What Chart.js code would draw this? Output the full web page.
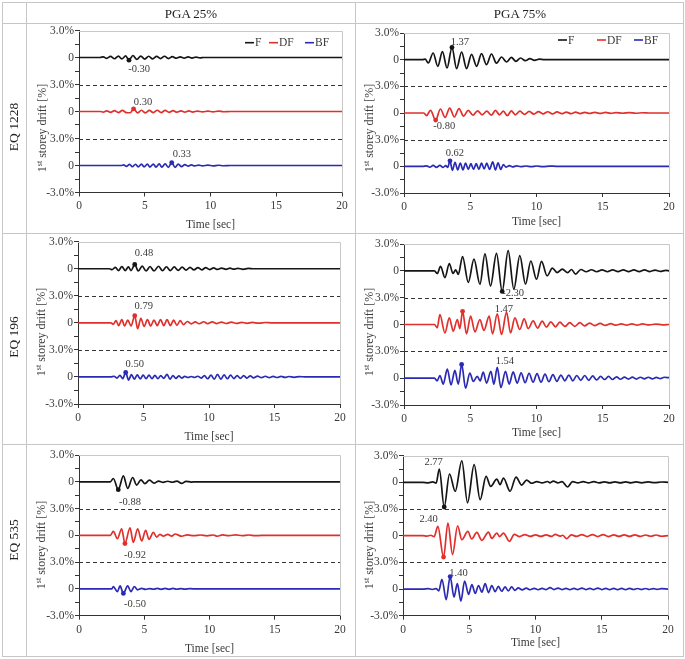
<!DOCTYPE html>
<html><head><meta charset="utf-8">
<script src="https://cdn.jsdelivr.net/npm/chart.js@4.4.1/dist/chart.umd.min.js"></script>
<style>
html,body{margin:0;padding:0;background:#fff;}
body{width:685px;height:659px;position:relative;overflow:hidden;font-family:"Liberation Serif","Times New Roman",serif;color:#333;font-weight:normal;}
.hl{position:absolute;height:1px;background:#c6c6c6;}
.vl{position:absolute;width:1px;background:#c6c6c6;}
.hdr{position:absolute;font-size:13px;font-weight:normal;color:#222;transform:translate(-50%,-50%);white-space:nowrap;filter:grayscale(1);}
.rowlab{position:absolute;font-size:13.5px;font-weight:normal;color:#222;transform:translate(-50%,-50%) rotate(-90deg);white-space:nowrap;filter:grayscale(1);}
canvas{position:absolute;}
</style></head><body>
<script>
// ---------------- DATA (time [s], drift [%]) ----------------
const COLUMN_HEADERS = ['PGA 25%', 'PGA 75%'];
const ROW_LABELS = ['EQ 1228', 'EQ 196', 'EQ 535'];
const SERIES_NAMES = ['F', 'DF', 'BF'];
const X_TICK_VALUES = [0, 5, 10, 15, 20];
const Y_TICK_VALUES = [-9, -7.5, -6, -4.5, -3, -1.5, 0, 1.5, 3, 4.5, 6, 7.5, 9];
const Y_TICK_LABELS = ['-3.0%', '', '0', '', '3.0%', '', '0', '', '3.0%', '', '0', '', '3.0%'];

// EQ 1228 - PGA 25%
const EQ1228_25_F = [[0,0],[1.6,0],[1.85,0.07],[2.1,-0.1],[2.4,0.12],[2.7,-0.14],[3.0,0.15],[3.25,-0.16],[3.55,0.17],[3.8,-0.30],[4.1,0.22],[4.4,-0.2],[4.7,0.16],[5.0,-0.18],[5.3,0.14],[5.6,-0.15],[5.9,0.13],[6.2,-0.12],[6.5,0.14],[6.8,-0.12],[7.1,0.1],[7.4,-0.08],[7.7,0.07],[8.0,-0.07],[8.3,0.06],[8.6,-0.06],[8.9,0.05],[9.2,-0.04],[9.5,0],[20,0]];
const EQ1228_25_DF = [[0,0],[1.6,0],[1.85,-0.06],[2.1,0.08],[2.4,-0.1],[2.7,0.1],[3.0,-0.12],[3.3,0.12],[3.6,-0.12],[3.9,-0.14],[4.15,0.30],[4.45,-0.15],[4.75,0.14],[5.05,-0.15],[5.35,0.12],[5.65,-0.12],[5.95,0.14],[6.25,-0.12],[6.55,0.12],[6.85,-0.1],[7.15,0.1],[7.45,-0.08],[7.75,0.07],[8.05,-0.07],[8.35,0.06],[8.65,-0.06],[9.0,0.05],[9.4,-0.05],[9.8,0.05],[10.2,-0.04],[10.6,0.04],[11.0,-0.03],[11.5,0],[20,0]];
const EQ1228_25_BF = [[0,0],[3.2,0],[3.4,0.06],[3.6,-0.1],[3.85,0.12],[4.05,-0.14],[4.3,0.14],[4.5,-0.15],[4.75,0.15],[4.95,-0.16],[5.2,0.15],[5.4,-0.17],[5.65,0.16],[5.85,-0.17],[6.1,0.17],[6.3,-0.18],[6.55,0.18],[6.8,-0.2],[7.05,0.33],[7.3,-0.2],[7.55,0.16],[7.8,-0.12],[8.05,0.1],[8.3,-0.08],[8.55,0.06],[8.8,-0.05],[9.1,0.04],[9.4,-0.04],[9.8,0.04],[10.2,-0.04],[10.6,0.03],[11.0,-0.03],[11.5,0],[20,0]];

// EQ 1228 - PGA 75%
const EQ1228_75_F = [[0,0],[1.4,0],[1.6,0.05],[1.83,-0.37],[2.2,0.75],[2.55,-0.75],[2.9,0.9],[3.25,-0.94],[3.62,1.37],[3.97,-1.0],[4.35,0.86],[4.72,-1.0],[5.1,0.6],[5.48,-0.75],[5.85,0.67],[6.23,-0.56],[6.6,0.64],[6.98,-0.4],[7.36,0.3],[7.74,-0.26],[8.1,0.26],[8.45,-0.19],[8.8,0.19],[9.15,-0.11],[9.5,0.11],[9.85,-0.07],[10.2,0.05],[10.6,0],[20,0]];
const EQ1228_75_DF = [[0,0],[1.5,0],[1.7,-0.3],[2.0,0.3],[2.39,-0.80],[2.75,0.45],[3.1,-0.5],[3.45,0.55],[3.8,-0.45],[4.15,0.5],[4.5,-0.35],[4.85,0.3],[5.2,-0.25],[5.55,0.25],[5.9,-0.2],[6.25,0.2],[6.6,-0.25],[6.9,0.3],[7.2,-0.2],[7.5,0.2],[7.8,-0.3],[8.1,0.25],[8.4,-0.2],[8.75,0.2],[9.1,-0.15],[9.45,0.18],[9.8,-0.12],[10.15,0.15],[10.5,-0.1],[10.85,0.14],[11.2,-0.1],[11.55,0.12],[11.9,-0.08],[12.25,0.1],[12.6,-0.07],[12.95,0.09],[13.3,-0.06],[13.65,0.08],[14.0,-0.05],[14.4,0.07],[14.8,-0.05],[15.2,0.06],[15.6,-0.04],[16.0,0.05],[16.5,-0.03],[17.0,0.04],[17.5,-0.03],[18.0,0.03],[18.5,0],[20,0]];
const EQ1228_75_BF = [[0,0],[1.4,0],[1.7,0.05],[1.95,-0.1],[2.2,0.1],[2.45,-0.12],[2.7,0.1],[2.95,-0.12],[3.15,0.08],[3.3,-0.12],[3.47,0.62],[3.65,-0.45],[3.85,0.45],[4.05,-0.4],[4.25,0.35],[4.45,-0.4],[4.65,0.35],[4.85,-0.35],[5.05,0.3],[5.25,-0.35],[5.45,0.3],[5.65,-0.35],[5.85,0.35],[6.05,-0.3],[6.25,0.35],[6.45,-0.35],[6.7,0.5],[6.9,-0.4],[7.1,0.4],[7.3,-0.35],[7.5,0.2],[7.7,-0.1],[7.95,0.08],[8.2,-0.06],[8.5,0.05],[8.8,-0.04],[9.2,0.04],[9.6,-0.04],[10.0,0.04],[10.5,-0.03],[11.0,0.03],[11.5,0],[20,0]];

// EQ 196 - PGA 25%
const EQ196_25_F = [[0,0],[2.4,0],[2.6,-0.1],[2.85,0.15],[3.1,-0.2],[3.35,0.25],[3.6,-0.2],[3.85,0.2],[4.05,-0.2],[4.33,0.48],[4.6,-0.25],[4.9,0.3],[5.2,-0.25],[5.5,0.25],[5.8,-0.25],[6.15,0.28],[6.45,-0.22],[6.75,0.22],[7.05,-0.2],[7.35,0.2],[7.65,-0.18],[7.95,0.18],[8.25,-0.15],[8.55,0.15],[8.85,-0.13],[9.15,0.13],[9.45,-0.12],[9.75,0.12],[10.05,-0.1],[10.35,0.1],[10.65,-0.08],[10.95,0.08],[11.3,-0.06],[11.6,0.06],[11.9,-0.05],[12.2,0.05],[12.6,-0.06],[13.0,0.04],[13.4,0],[20,0]];
const EQ196_25_DF = [[0,0],[2.5,0],[2.7,-0.15],[2.9,0.25],[3.1,-0.3],[3.35,0.35],[3.55,-0.35],[3.8,0.3],[4.05,-0.35],[4.33,0.79],[4.55,-0.65],[4.8,0.5],[5.05,-0.4],[5.3,0.35],[5.55,-0.35],[5.8,0.3],[6.05,-0.3],[6.3,0.35],[6.55,-0.3],[6.8,0.35],[7.05,-0.3],[7.3,0.3],[7.55,-0.28],[7.8,0.25],[8.05,-0.2],[8.35,0.15],[8.65,-0.12],[8.95,0.1],[9.25,-0.1],[9.6,0.12],[9.9,-0.1],[10.25,0.1],[10.6,-0.08],[10.95,0.08],[11.3,-0.07],[11.7,0.07],[12.1,-0.06],[12.5,0.06],[12.9,-0.05],[13.3,0.05],[13.8,-0.04],[14.3,0.04],[14.8,0],[20,0]];
const EQ196_25_BF = [[0,0],[2.5,0],[2.75,0.08],[2.97,-0.12],[3.2,0.18],[3.42,-0.2],[3.64,0.50],[3.86,-0.35],[4.08,0.25],[4.3,-0.25],[4.52,0.22],[4.75,-0.22],[4.97,0.2],[5.2,-0.2],[5.42,0.2],[5.65,-0.2],[5.87,0.18],[6.1,-0.2],[6.32,0.15],[6.55,-0.15],[6.8,0.3],[7.02,-0.25],[7.25,0.15],[7.47,-0.15],[7.7,0.12],[7.92,-0.12],[8.15,0.06],[8.4,-0.06],[8.65,0.05],[8.9,-0.06],[9.15,0.08],[9.4,-0.12],[9.65,0.15],[9.9,-0.2],[10.15,0.2],[10.4,-0.25],[10.65,0.3],[10.9,-0.25],[11.15,0.22],[11.4,-0.2],[11.65,0.2],[11.9,-0.18],[12.15,0.15],[12.4,-0.15],[12.65,0.15],[12.9,-0.12],[13.15,0.12],[13.4,-0.1],[13.7,0.1],[14.0,-0.08],[14.3,0.08],[14.6,-0.07],[14.9,0.07],[15.2,-0.06],[15.5,0.06],[15.8,-0.05],[16.1,0.05],[16.5,-0.04],[16.9,0.04],[17.4,0],[20,0]];

// EQ 196 - PGA 75%
const EQ196_75_F = [[0,0],[2.3,0],[2.51,-0.3],[2.76,0.5],[3.09,-0.75],[3.42,0.8],[3.7,-0.3],[3.9,0.1],[4.1,-0.4],[4.42,1.6],[4.85,-1.3],[5.28,1.3],[5.73,-1.5],[6.11,1.9],[6.53,-1.7],[6.98,1.95],[7.41,-2.30],[7.86,2.25],[8.29,-2.06],[8.74,1.7],[9.17,-1.5],[9.57,1.1],[10.0,-0.94],[10.38,1.05],[10.8,-0.56],[11.2,0.3],[11.55,-0.19],[11.95,0.2],[12.35,-0.2],[12.65,0.15],[12.95,-0.37],[13.35,0.15],[13.75,-0.1],[14.15,0.12],[14.55,-0.1],[14.95,0.1],[15.35,-0.1],[15.75,0.1],[16.15,-0.08],[16.55,0.1],[16.95,-0.08],[17.35,0.1],[17.75,-0.08],[18.15,0.1],[18.55,-0.08],[18.95,0.08],[19.35,-0.06],[19.75,0.06],[20,0]];
const EQ196_75_DF = [[0,0],[2.3,0],[2.51,-0.37],[2.71,1.1],[3.09,-0.94],[3.42,0.75],[3.72,-0.75],[4.02,0.56],[4.22,-0.45],[4.42,1.47],[4.72,-1.05],[5.03,0.94],[5.35,-0.82],[5.73,0.56],[6.03,-0.67],[6.43,0.94],[6.68,-1.05],[7.04,1.2],[7.36,-1.12],[7.74,1.39],[8.04,-0.94],[8.37,0.75],[8.74,-0.56],[9.07,0.64],[9.37,-0.45],[9.75,0.4],[10.08,-0.4],[10.43,0.37],[10.75,-0.3],[11.08,0.3],[11.43,-0.26],[11.76,0.26],[12.14,-0.22],[12.51,0.2],[12.89,-0.2],[13.27,0.2],[13.64,-0.15],[14.0,0.15],[14.4,-0.12],[14.8,0.12],[15.2,-0.1],[15.6,0.1],[16.0,-0.08],[16.4,0.08],[16.8,-0.07],[17.2,0.07],[17.6,-0.06],[18.0,0.06],[18.5,-0.05],[19.0,0.05],[19.5,-0.04],[20,0]];
const EQ196_75_BF = [[0,0],[2.3,0],[2.5,-0.3],[2.71,0.3],[2.96,-0.67],[3.27,1.0],[3.55,-0.75],[3.84,0.86],[4.1,-0.67],[4.35,1.54],[4.65,-1.12],[4.97,0.56],[5.23,-0.37],[5.53,0.2],[5.75,-0.3],[5.98,0.67],[6.23,-0.55],[6.56,0.75],[6.78,-0.67],[7.04,1.2],[7.31,-1.05],[7.66,0.75],[7.94,-0.67],[8.24,0.7],[8.54,-0.55],[8.84,0.6],[9.14,-0.5],[9.44,0.55],[9.74,-0.45],[10.04,0.5],[10.34,-0.45],[10.64,0.45],[10.94,-0.4],[11.24,0.4],[11.54,-0.35],[11.84,0.35],[12.14,-0.3],[12.44,0.35],[12.74,-0.3],[13.04,0.3],[13.34,-0.25],[13.64,0.3],[13.94,-0.25],[14.24,0.25],[14.54,-0.2],[14.84,0.2],[15.14,-0.15],[15.44,0.2],[15.74,-0.15],[16.04,0.15],[16.34,-0.12],[16.64,0.12],[16.94,-0.1],[17.24,0.12],[17.54,-0.1],[17.84,0.1],[18.14,-0.08],[18.44,0.1],[18.74,-0.08],[19.04,0.08],[19.34,-0.06],[19.64,0.1],[20,0.05]];

// EQ 535 - PGA 25%
const EQ535_25_F = [[0,0],[2.4,0],[2.63,0.37],[3.01,-0.88],[3.40,0.67],[3.73,-0.74],[4.11,0.48],[4.42,-0.37],[4.75,0.22],[5.05,-0.2],[5.4,0.18],[5.75,-0.15],[6.1,0.08],[6.45,-0.06],[6.8,0.06],[7.15,-0.05],[7.5,0.08],[7.87,-0.18],[8.2,0.05],[8.6,-0.03],[9.0,0],[20,0]];
const EQ535_25_DF = [[0,0],[2.4,0],[2.63,0.45],[2.94,-0.37],[3.27,0.74],[3.52,-0.92],[3.91,0.85],[4.16,-0.78],[4.50,0.74],[4.80,-0.63],[5.11,0.55],[5.36,-0.45],[5.70,0.33],[5.95,-0.2],[6.2,0.1],[6.46,-0.08],[6.8,0.1],[7.1,-0.08],[7.36,0.15],[7.87,-0.1],[8.3,0.05],[8.8,-0.04],[9.3,0.04],[9.8,-0.05],[10.3,0.04],[10.6,-0.1],[11.0,0.05],[11.5,-0.04],[12.0,0.06],[12.5,-0.04],[13.0,0.04],[13.5,-0.04],[14.0,0],[20,0]];
const EQ535_25_BF = [[0,0],[2.5,0],[2.63,0.26],[2.94,-0.3],[3.15,0.33],[3.40,-0.50],[3.73,0.33],[3.98,-0.3],[4.24,0.26],[4.5,-0.1],[4.8,0.06],[5.1,-0.05],[5.4,0.04],[5.7,-0.04],[6.0,0.05],[6.3,-0.05],[6.6,0.05],[6.9,-0.05],[7.2,0.05],[7.5,-0.04],[7.8,0.04],[8.1,-0.03],[8.5,0.03],[9.0,0],[20,0]];

// EQ 535 - PGA 75%
const EQ535_75_F = [[0,0],[1.5,0],[1.9,-0.05],[2.25,0.05],[2.5,-0.1],[2.74,1.5],[3.11,-2.77],[3.51,0.94],[3.94,-1.0],[4.44,2.43],[4.87,-2.3],[5.37,2.0],[5.82,-1.95],[6.27,0.67],[6.62,-0.45],[7.08,0.37],[7.33,-0.26],[7.58,0.49],[8.08,-1.0],[8.53,0.6],[8.96,-0.3],[9.33,0.26],[9.7,-0.1],[10.1,0.08],[10.5,-0.06],[10.9,0.1],[11.1,-0.05],[11.34,0.15],[11.7,-0.05],[12.0,0.08],[12.42,-0.52],[12.8,0.08],[13.2,-0.06],[13.6,0.08],[14.0,-0.06],[14.4,0.08],[14.8,-0.06],[15.2,0.06],[15.6,-0.06],[16.0,0.06],[16.4,-0.06],[16.8,0.06],[17.2,-0.05],[17.6,0.05],[18.0,-0.05],[18.5,0.05],[19.0,-0.04],[19.5,0.04],[20,0]];
const EQ535_75_DF = [[0,0],[1.5,0],[1.8,-0.05],[2.1,0.05],[2.35,-0.1],[2.63,1.05],[3.06,-2.40],[3.39,1.42],[3.74,-2.13],[4.12,1.12],[4.44,-0.45],[4.89,0.49],[5.19,-0.37],[5.57,0.37],[5.95,-0.52],[6.45,0.41],[6.7,-0.3],[7.08,0.3],[7.3,-0.1],[7.58,0.3],[8.03,-0.64],[8.4,0.15],[8.8,-0.1],[9.2,0.12],[9.6,-0.08],[10.0,0.1],[10.4,-0.08],[10.8,0.1],[11.2,-0.08],[11.5,0.15],[11.85,-0.05],[12.05,0.05],[12.35,-0.34],[12.7,0.1],[13.1,-0.08],[13.5,0.12],[13.9,-0.1],[14.3,0.12],[14.7,-0.1],[15.1,0.12],[15.5,-0.1],[15.9,0.1],[16.3,-0.08],[16.7,0.1],[17.1,-0.08],[17.5,0.1],[17.9,-0.08],[18.3,0.08],[18.7,-0.06],[19.1,0.08],[19.5,-0.06],[20,0]];
const EQ535_75_BF = [[0,0],[1.5,0],[1.9,0.05],[2.2,-0.05],[2.5,0.05],[2.7,-0.2],[2.94,1.1],[3.26,-1.2],[3.56,1.40],[3.85,-0.9],[4.1,0.6],[4.37,-1.35],[4.65,0.9],[4.95,-0.6],[5.2,0.5],[5.45,-0.5],[5.7,0.4],[5.95,-0.35],[6.2,0.6],[6.45,-0.4],[6.7,0.4],[6.95,-0.3],[7.2,0.3],[7.45,-0.25],[7.7,0.25],[7.95,-0.2],[8.2,0.25],[8.45,-0.15],[8.7,0.12],[9.0,-0.1],[9.3,0.1],[9.6,-0.08],[9.9,0.08],[10.2,-0.08],[10.5,0.08],[10.8,-0.06],[11.1,0.15],[11.4,-0.06],[11.7,0.1],[12.0,-0.06],[12.3,0.08],[12.6,-0.06],[12.9,0.08],[13.2,-0.06],[13.5,0.1],[13.8,-0.06],[14.1,0.08],[14.4,-0.06],[14.7,0.1],[15.0,-0.06],[15.3,0.08],[15.6,-0.06],[15.9,0.08],[16.2,-0.06],[16.5,0.08],[16.8,-0.06],[17.1,0.08],[17.4,-0.05],[17.7,0.06],[18.0,-0.05],[18.3,0.06],[18.6,-0.05],[18.9,0.05],[19.2,-0.04],[19.5,0.05],[20,0]];

// marked peaks: series, time, value, printed text
const PEAKS_EQ1228_25 = [['F',3.8,-0.30,'-0.30'],['DF',4.15,0.30,'0.30'],['BF',7.05,0.33,'0.33']];
const PEAKS_EQ1228_75 = [['F',3.62,1.37,'1.37'],['DF',2.39,-0.80,'-0.80'],['BF',3.47,0.62,'0.62']];
const PEAKS_EQ196_25 = [['F',4.33,0.48,'0.48'],['DF',4.33,0.79,'0.79'],['BF',3.64,0.50,'0.50']];
const PEAKS_EQ196_75 = [['F',7.41,-2.30,'-2.30'],['DF',4.42,1.47,'1.47'],['BF',4.35,1.54,'1.54']];
const PEAKS_EQ535_25 = [['F',3.01,-0.88,'-0.88'],['DF',3.52,-0.92,'-0.92'],['BF',3.40,-0.50,'-0.50']];
const PEAKS_EQ535_75 = [['F',3.11,-2.77,'2.77'],['DF',3.06,-2.40,'2.40'],['BF',3.56,1.40,'1.40']];

// ---------------- LAYOUT / STYLE ----------------
const COLORS = {F:'#151515', DF:'#e0302c', BF:'#2a2ab4'};
const BAND = {F:6, DF:0, BF:-6};
const COLS = [[26,355],[355,683]];
const ROWS = [[23,233],[233,444],[444,656]];
const SERIF = '"Liberation Serif","Times New Roman",serif';
const TEXT = '#3a3a3a';

// label positions (time, value within band)
const PANELS = [
 {row:0,col:0,data:[EQ1228_25_F,EQ1228_25_DF,EQ1228_25_BF],peaks:PEAKS_EQ1228_25,lab:[[4.57,-1.33],[4.87,1.07],[7.82,1.22]],
  plot:{l:79,r:342,t:30.5,b:192.5},xTitleY:225,yTitle:{x:42,y:128},legend:{y:42.7,items:[[245,255],[269,279],[305,315]]}},
 {row:0,col:1,data:[EQ1228_75_F,EQ1228_75_DF,EQ1228_75_BF],peaks:PEAKS_EQ1228_75,lab:[[4.22,1.95],[3.04,-1.5],[3.84,1.42]],
  plot:{l:404,r:669,t:33,b:193},xTitleY:221.7,yTitle:{x:369,y:128},legend:{y:40,items:[[558,568],[597,607],[634,644]]}},
 {row:1,col:0,data:[EQ196_25_F,EQ196_25_DF,EQ196_25_BF],peaks:PEAKS_EQ196_25,lab:[[5.04,1.67],[5.02,1.89],[4.33,1.41]],
  plot:{l:78,r:340,t:241.7,b:404},xTitleY:436.7,yTitle:{x:41,y:332}},
 {row:1,col:1,data:[EQ196_75_F,EQ196_75_DF,EQ196_75_BF],peaks:PEAKS_EQ196_75,lab:[[8.24,-2.51],[7.54,1.76],[7.61,1.87]],
  plot:{l:404,r:669,t:244,b:405},xTitleY:433.3,yTitle:{x:369,y:332}},
 {row:2,col:0,data:[EQ535_25_F,EQ535_25_DF,EQ535_25_BF],peaks:PEAKS_EQ535_25,lab:[[3.91,-2.3],[4.29,-2.22],[4.29,-1.70]],
  plot:{l:79,r:340,t:455,b:615.7},xTitleY:649.3,yTitle:{x:41,y:545}},
 {row:2,col:1,data:[EQ535_75_F,EQ535_75_DF,EQ535_75_BF],peaks:PEAKS_EQ535_75,lab:[[2.31,2.25],[1.93,1.87],[4.19,1.76]],
  plot:{l:403,r:668,t:455.7,b:615.7},xTitleY:643.3,yTitle:{x:369,y:545}}
];

// ---------------- TABLE ----------------
function addDiv(cls, css, text){const d=document.createElement('div');d.className=cls;Object.assign(d.style,css);if(text!==undefined)d.textContent=text;document.body.appendChild(d);return d;}
[2,23,233,444,656].forEach(y=>addDiv('hl',{left:'2px',top:y+'px',width:'682px'}));
[2,26,355,683].forEach(x=>addDiv('vl',{left:x+'px',top:'2px',height:'655px'}));
addDiv('hdr',{left:'191px',top:'14px'},COLUMN_HEADERS[0]);
addDiv('hdr',{left:'520px',top:'14px'},COLUMN_HEADERS[1]);
[[14,127],[14,337],[14,540]].forEach((p,i)=>addDiv('rowlab',{left:p[0]+'px',top:p[1]+'px'},ROW_LABELS[i]));

// ---------------- CHARTS ----------------
const yLabelMap = new Map(Y_TICK_VALUES.map((v,i)=>[v,Y_TICK_LABELS[i]]));

const decorPlugin = {
  id:'decor',
  beforeDatasetsDraw(chart){
    const {ctx, chartArea:a, scales:{y}} = chart;
    ctx.save();
    ctx.strokeStyle='#c8c8c8'; ctx.lineWidth=1;
    ctx.beginPath();
    ctx.moveTo(a.left, Math.round(a.top)+0.5); ctx.lineTo(Math.round(a.right)+0.5, Math.round(a.top)+0.5);
    ctx.lineTo(Math.round(a.right)+0.5, a.bottom);
    ctx.stroke();
    ctx.strokeStyle='#333'; ctx.setLineDash([4,3]);
    [3,-3].forEach(v=>{const py=Math.round(y.getPixelForValue(v))+0.5;ctx.beginPath();ctx.moveTo(a.left,py);ctx.lineTo(a.right,py);ctx.stroke();});
    ctx.restore();
  },
  afterDatasetsDraw(chart){
    const p = chart.options.plugins.decor.panel;
    const {ctx, scales:{x,y}} = chart;
    const cl = chart.canvas._cl, ct = chart.canvas._ct;
    ctx.save();
    ctx.fillStyle=TEXT; ctx.font='10.5px '+SERIF; ctx.textAlign='center'; ctx.textBaseline='middle';
    p.peaks.forEach((pk,i)=>{
      const [lt,lv]=p.lab[i];
      ctx.fillText(pk[3], x.getPixelForValue(lt), y.getPixelForValue(lv+BAND[pk[0]]));
    });
    if (p.legend){
      ctx.font='11.5px '+SERIF; ctx.textAlign='left';
      p.legend.items.forEach((it,i)=>{
        const s=SERIES_NAMES[i]; const ly=p.legend.y-ct;
        ctx.strokeStyle=COLORS[s]; ctx.lineWidth=1.6;
        ctx.beginPath(); ctx.moveTo(it[0]-cl, ly); ctx.lineTo(it[0]-cl+9, ly); ctx.stroke();
        ctx.fillStyle=TEXT; ctx.fillText(s, it[1]-cl, ly+0.5);
      });
    }
    const fs=12, sfs=8;
    ctx.translate(p.yTitle.x-cl, p.yTitle.y-ct); ctx.rotate(-Math.PI/2);
    ctx.font=fs+'px '+SERIF; const w1=ctx.measureText('1').width, w3=ctx.measureText(' storey drift [%]').width;
    ctx.font=sfs+'px '+SERIF; const w2=ctx.measureText('st').width;
    let sx=-(w1+w2+w3)/2; ctx.textAlign='left'; ctx.textBaseline='alphabetic'; ctx.fillStyle=TEXT;
    ctx.font=fs+'px '+SERIF; ctx.fillText('1',sx,4); sx+=w1;
    ctx.font=sfs+'px '+SERIF; ctx.fillText('st',sx,-0.5); sx+=w2;
    ctx.font=fs+'px '+SERIF; ctx.fillText(' storey drift [%]',sx,4);
    ctx.restore();
  }
};

PANELS.forEach(p=>{
  const cl=COLS[p.col][0]+1, cr=COLS[p.col][1], ct=ROWS[p.row][0]+1, cb=ROWS[p.row][1];
  const cw=cr-cl, ch=cb-ct;
  const cv=document.createElement('canvas');
  cv.width=cw; cv.height=ch; cv.style.left=cl+'px'; cv.style.top=ct+'px'; cv.style.width=cw+'px'; cv.style.height=ch+'px';
  cv._cl=cl; cv._ct=ct;
  document.body.appendChild(cv);
  const yW=p.plot.l-cl, xH=cb-p.plot.b;
  const titleLH=11.5*1.2;
  const titlePadB=Math.max(0,(cb-p.xTitleY)-titleLH/2);
  const datasets=[];
  SERIES_NAMES.forEach((s,i)=>{
    datasets.push({type:'line',label:s,data:p.data[i].map(([t,v])=>({x:t,y:v+BAND[s]})),borderColor:COLORS[s],borderWidth:1.7,
      pointRadius:0,cubicInterpolationMode:'monotone',fill:false,order:2});
  });
  p.peaks.forEach(pk=>{
    datasets.push({type:'scatter',label:pk[0]+' peak',data:[{x:pk[1],y:pk[2]+BAND[pk[0]]}],backgroundColor:COLORS[pk[0]],borderColor:COLORS[pk[0]],
      pointRadius:2.4,borderWidth:0,order:1});
  });
  new Chart(cv,{
    type:'line',
    data:{datasets},
    options:{
      responsive:false, animation:false, devicePixelRatio:1, events:[],
      layout:{padding:{left:0,top:p.plot.t-ct,right:cr-p.plot.r,bottom:0}},
      plugins:{legend:{display:false},tooltip:{enabled:false},decor:{panel:p}},
      scales:{
        x:{type:'linear',min:0,max:20,
          afterBuildTicks:s=>{s.ticks=X_TICK_VALUES.map(v=>({value:v}));},
          afterFit:s=>{s.height=xH;s.paddingLeft=0;s.paddingRight=0;},
          ticks:{autoSkip:false,maxRotation:0,font:{family:SERIF,size:11.5},color:TEXT,padding:3},
          grid:{drawOnChartArea:false,drawTicks:true,tickLength:4,tickColor:'#333'},
          border:{display:true,color:'#333',width:1},
          title:{display:true,text:'Time [sec]',font:{family:SERIF,size:11.5},color:TEXT,padding:{top:0,bottom:titlePadB}}
        },
        y:{type:'linear',min:-9,max:9,
          afterBuildTicks:s=>{s.ticks=Y_TICK_VALUES.map(v=>({value:v}));},
          afterFit:s=>{s.width=yW;s.paddingTop=0;s.paddingBottom=0;},
          ticks:{autoSkip:false,font:{family:SERIF,size:11.5},color:TEXT,padding:1,callback:v=>yLabelMap.get(v)??''},
          grid:{drawOnChartArea:false,drawTicks:true,tickLength:4,tickColor:'#333'},
          border:{display:true,color:'#333',width:1}
        }
      }
    },
    plugins:[decorPlugin]
  });
});
</script>
</body></html>
